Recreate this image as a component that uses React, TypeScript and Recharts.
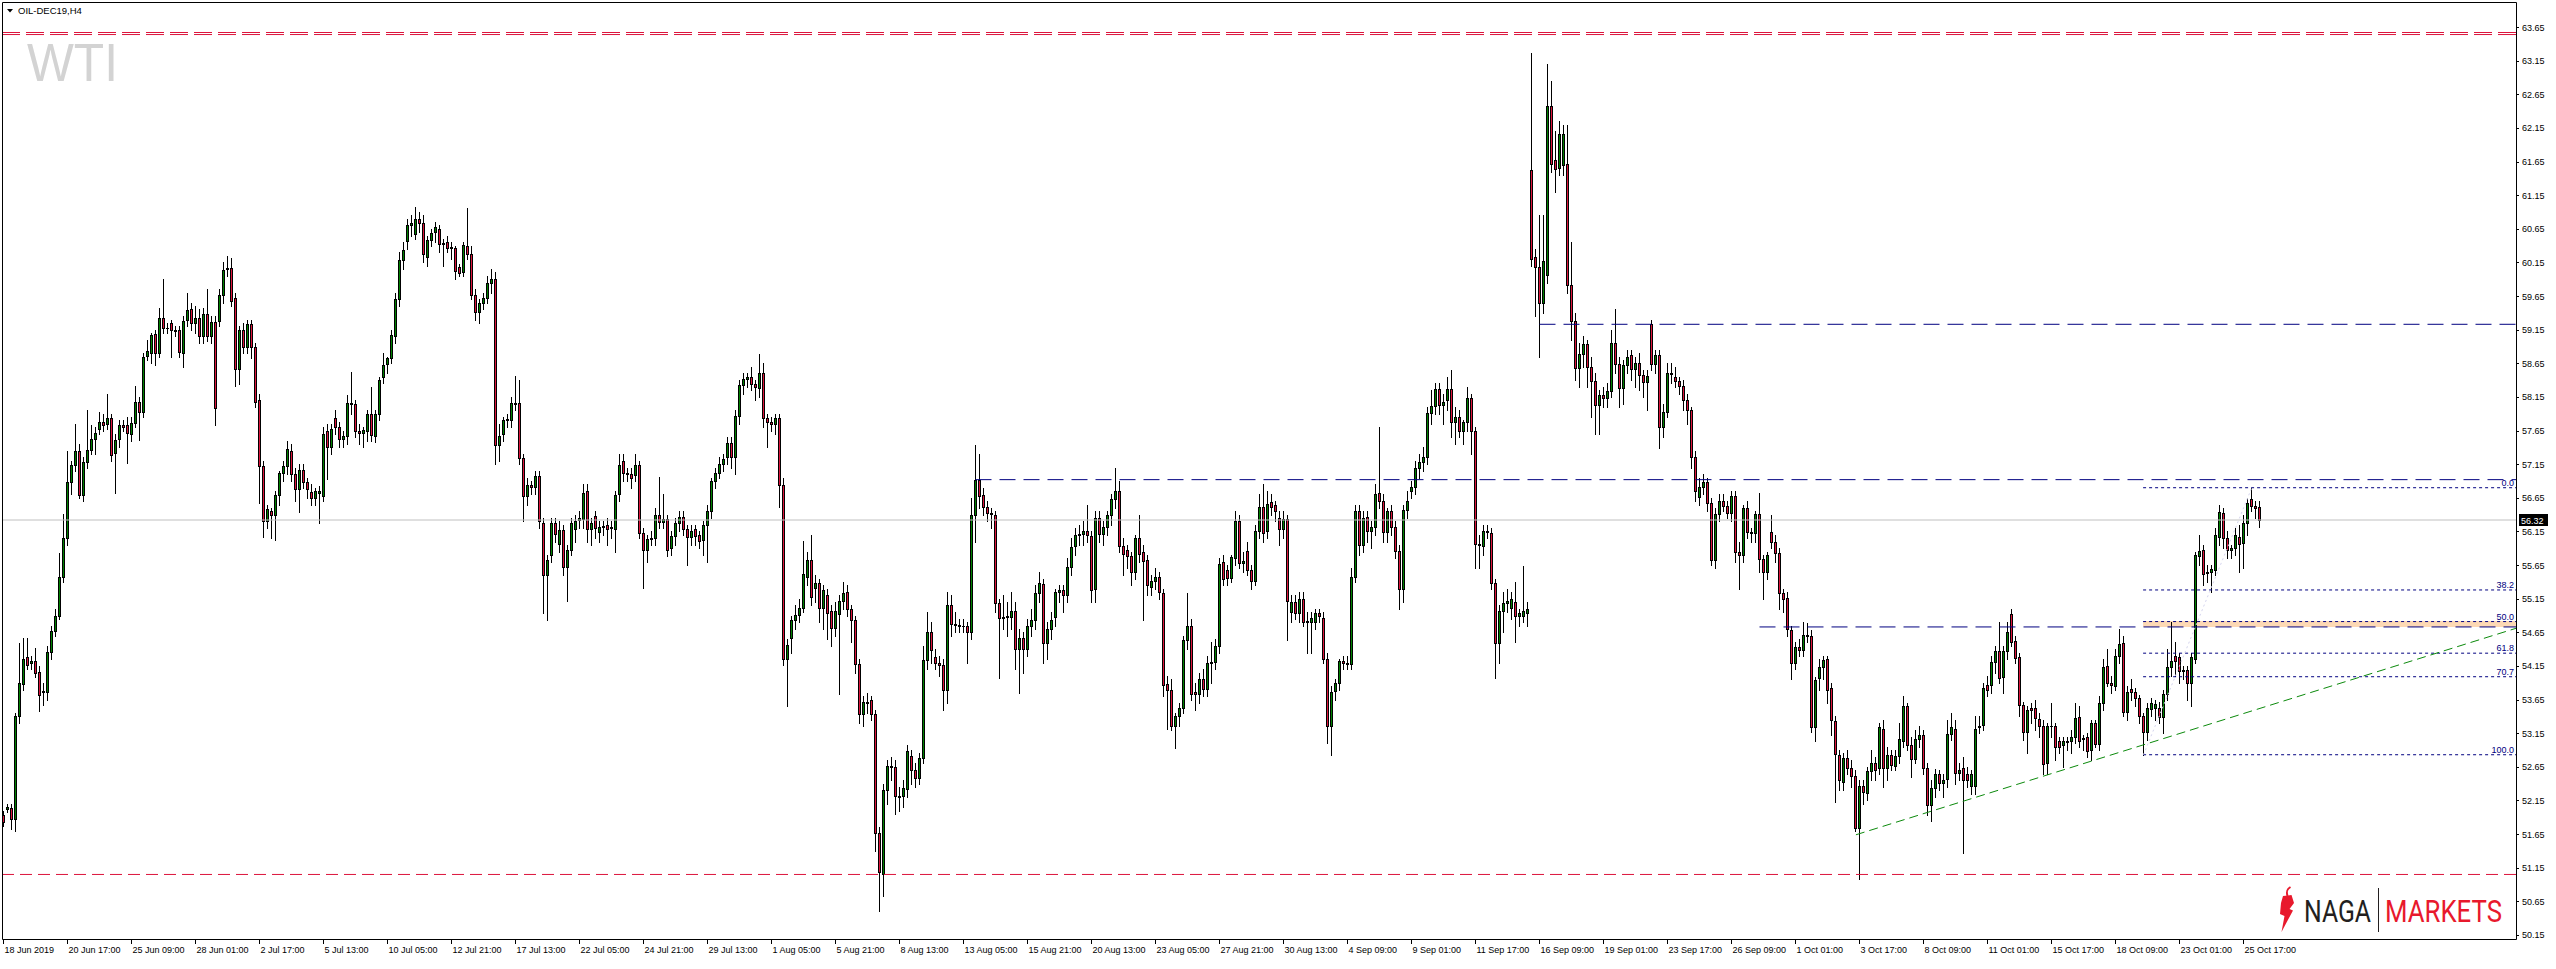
import React from "react";
import {
  ComposedChart,
  Bar,
  XAxis,
  YAxis,
  ReferenceLine,
  ReferenceArea,
  Label,
} from "recharts";

type Ohlc = [number, number, number, number]; // open, high, low, close

// H4 bars, OIL-DEC19 (WTI)
const junBars: Ohlc[] = [
  [51.93, 52.0, 51.77, 51.83], [52.02, 52.1, 51.98, 52.05], [52.04, 52.1, 51.72, 51.87], [51.87, 53.45, 51.7, 53.4],
  [53.4, 54.49, 53.3, 53.9], [53.88, 54.57, 53.8, 54.26], [54.28, 54.57, 54.1, 54.17], [54.2, 54.3, 54.1, 54.23],
  [54.23, 54.41, 53.98, 54.04], [54.06, 54.15, 53.48, 53.72], [53.77, 53.9, 53.57, 53.78], [53.77, 54.45, 53.65, 54.36],
  [54.36, 54.75, 54.25, 54.67], [54.67, 55.0, 54.6, 54.9], [54.9, 55.83, 54.85, 55.48], [55.48, 56.41, 55.4, 56.05],
  [56.05, 57.34, 55.95, 56.88], [56.88, 57.2, 56.7, 57.14], [57.14, 57.75, 57.05, 57.34], [57.34, 57.45, 56.64, 56.69],
  [56.69, 57.25, 56.6, 57.18], [57.18, 57.96, 57.1, 57.36], [57.36, 57.73, 57.3, 57.53], [57.52, 57.7, 57.3, 57.62],
  [57.67, 57.93, 57.6, 57.78], [57.78, 57.9, 57.65, 57.73], [57.75, 58.2, 57.68, 57.83], [57.83, 57.9, 57.2, 57.29],
  [57.31, 57.6, 56.72, 57.51], [57.52, 57.8, 57.4, 57.73], [57.74, 57.8, 57.65, 57.71], [57.73, 57.85, 57.17, 57.62],
  [57.6, 57.85, 57.5, 57.76], [57.76, 58.31, 57.7, 58.07], [58.07, 58.15, 57.51, 57.93], [57.93, 58.8, 57.85, 58.74],
  [58.76, 59.0, 58.7, 58.83], [58.8, 59.1, 58.65, 59.07], [59.09, 59.15, 58.62, 58.8], [58.81, 59.47, 58.75, 59.33],
  [59.33, 59.9, 59.1, 59.17], [59.17, 59.25, 59.1, 59.18], [59.25, 59.3, 58.74, 59.14], [59.14, 59.2, 59.05, 59.13],
  [59.14, 59.2, 58.75, 58.82], [58.8, 59.35, 58.59, 59.28], [59.3, 59.69, 59.2, 59.44], [59.45, 59.55, 59.15, 59.25],
  [59.25, 59.5, 59.1, 59.33], [59.33, 59.45, 58.95, 59.05], [59.05, 59.47, 58.95, 59.39], [59.39, 59.76, 58.98, 59.05],
  [59.05, 59.35, 58.95, 59.27], [59.27, 59.35, 57.73, 57.99],
];

const julBars: Ohlc[] = [
  [59.28, 59.75, 59.2, 59.66], [59.66, 60.15, 59.55, 60.04], [60.05, 60.25, 59.95, 60.07], [60.07, 60.21, 59.5, 59.58],
  [59.62, 59.7, 58.31, 58.56], [58.56, 59.2, 58.34, 59.15], [59.15, 59.25, 58.8, 58.89], [58.89, 59.3, 58.8, 59.23],
  [59.23, 59.3, 58.73, 58.89], [58.89, 58.95, 58.0, 58.07], [58.1, 58.2, 56.57, 57.13], [57.12, 57.2, 56.06, 56.3],
  [56.3, 56.55, 56.2, 56.48], [56.45, 56.5, 56.05, 56.4], [56.4, 56.75, 56.03, 56.69], [56.69, 57.05, 56.55, 57.02],
  [57.02, 57.2, 56.9, 57.12], [57.12, 57.5, 57.0, 57.38], [57.35, 57.45, 56.9, 57.0], [57.0, 57.1, 56.6, 56.78],
  [56.78, 57.15, 56.44, 57.07], [57.07, 57.15, 56.8, 56.89], [56.89, 56.95, 56.65, 56.78], [56.73, 56.85, 56.55, 56.64],
  [56.65, 56.8, 56.55, 56.75], [56.72, 56.82, 56.28, 56.75], [56.68, 57.7, 56.6, 57.6], [57.64, 57.75, 56.93, 57.4],
  [57.4, 57.75, 57.3, 57.67], [57.83, 57.95, 57.6, 57.7], [57.7, 57.78, 57.4, 57.53], [57.52, 57.65, 57.4, 57.57],
  [57.57, 58.18, 57.45, 58.06], [58.06, 58.52, 57.9, 58.04], [58.04, 58.1, 57.55, 57.64], [57.64, 57.75, 57.45, 57.62],
  [57.62, 57.7, 57.4, 57.66], [57.64, 57.95, 57.5, 57.89], [57.9, 58.3, 57.5, 57.59], [57.57, 57.95, 57.48, 57.89],
  [57.89, 58.45, 57.8, 58.4], [58.44, 58.8, 58.35, 58.62], [58.64, 58.75, 58.5, 58.73], [58.73, 59.15, 58.65, 59.07],
  [59.05, 59.7, 58.95, 59.6], [59.6, 60.3, 59.5, 60.18], [60.18, 60.45, 60.05, 60.34], [60.47, 60.8, 60.35, 60.71],
  [60.7, 60.85, 60.55, 60.73], [60.57, 60.98, 60.5, 60.8], [60.8, 60.9, 60.6, 60.73], [60.73, 60.85, 60.15, 60.27],
  [60.23, 60.55, 60.1, 60.49], [60.49, 60.65, 60.4, 60.59], [60.6, 60.75, 60.45, 60.67], [60.65, 60.7, 60.3, 60.42],
  [60.42, 60.5, 60.1, 60.44], [60.45, 60.55, 60.3, 60.36], [60.36, 60.45, 60.2, 60.38], [60.36, 60.4, 59.9, 60.02],
  [60.08, 60.12, 59.95, 59.99], [60.01, 60.45, 59.95, 60.41], [60.4, 60.96, 60.2, 60.27], [60.27, 60.4, 59.6, 59.67],
  [59.67, 59.75, 59.3, 59.41], [59.41, 59.6, 59.25, 59.54], [59.54, 59.7, 59.45, 59.62], [59.62, 59.95, 59.55, 59.84],
  [59.84, 60.05, 59.7, 59.9], [59.9, 60.0, 57.15, 57.43], [57.43, 57.75, 57.2, 57.57], [57.6, 57.85, 57.5, 57.8],
  [57.8, 57.9, 57.7, 57.82], [57.8, 58.15, 57.7, 58.06], [58.06, 58.46, 57.95, 58.04], [58.06, 58.4, 57.15, 57.24],
  [57.24, 57.3, 56.31, 56.67], [56.67, 56.95, 56.55, 56.84], [56.84, 56.9, 56.7, 56.81], [56.81, 57.05, 56.7, 56.97],
  [56.97, 57.05, 56.2, 56.3], [56.28, 56.35, 54.94, 55.5], [55.5, 55.8, 54.83, 55.73], [55.8, 56.35, 55.7, 56.27],
  [56.27, 56.35, 56.0, 56.11], [55.97, 56.3, 55.85, 56.17], [56.17, 56.25, 55.5, 55.62], [55.62, 55.95, 55.12, 55.88],
  [55.88, 56.35, 55.8, 56.27], [56.19, 56.4, 56.0, 56.3], [56.32, 56.45, 56.2, 56.35], [56.33, 56.85, 56.2, 56.72],
  [56.75, 56.85, 56.0, 56.19], [56.19, 56.35, 55.95, 56.28], [56.38, 56.45, 56.05, 56.2], [56.14, 56.3, 56.0, 56.22],
  [56.22, 56.3, 56.1, 56.23], [56.25, 56.35, 55.95, 56.19], [56.2, 56.3, 56.05, 56.22], [56.19, 56.75, 55.85, 56.69],
  [56.7, 57.3, 56.6, 57.14], [57.2, 57.3, 56.9, 57.02], [57.02, 57.1, 56.9, 57.0], [57.0, 57.1, 56.8, 56.95],
  [56.99, 57.3, 56.9, 57.14], [57.14, 57.2, 56.05, 56.12], [56.12, 56.2, 55.31, 55.88], [55.88, 56.1, 55.7, 56.04],
  [56.04, 56.15, 55.95, 56.05], [56.05, 56.5, 55.95, 56.39], [56.4, 56.96, 56.2, 56.29], [56.29, 56.7, 56.2, 56.33],
  [56.33, 56.4, 55.78, 55.88], [55.9, 56.15, 55.8, 56.08], [56.08, 56.35, 55.95, 56.28], [56.28, 56.45, 56.15, 56.36],
  [56.36, 56.45, 56.1, 56.19], [56.19, 56.25, 55.65, 56.07], [56.07, 56.25, 55.95, 56.16], [56.18, 56.25, 55.95, 56.08],
  [56.09, 56.15, 55.9, 56.01], [56.02, 56.3, 55.8, 56.24], [56.25, 56.55, 55.7, 56.45], [56.45, 56.95, 56.35, 56.9],
  [56.9, 57.1, 56.8, 57.02], [57.02, 57.25, 56.95, 57.16], [57.16, 57.3, 57.05, 57.23], [57.25, 57.55, 57.15, 57.46],
  [57.46, 57.55, 57.1, 57.25], [57.25, 57.95, 57.0, 57.86], [57.86, 58.4, 57.75, 58.32], [58.32, 58.5, 58.2, 58.42],
  [58.42, 58.5, 58.3, 58.44], [58.44, 58.6, 58.25, 58.34], [58.34, 58.4, 58.1, 58.3], [58.28, 58.79, 58.15, 58.5],
  [58.5, 58.65, 57.7, 57.84],
];

const augBars: Ohlc[] = [
  [57.83, 57.9, 57.4, 57.77], [57.77, 57.85, 57.65, 57.75], [57.75, 57.9, 57.6, 57.83], [57.83, 57.9, 56.52, 56.84],
  [56.84, 56.95, 54.17, 54.26], [54.26, 54.55, 53.56, 54.46], [54.56, 54.9, 54.35, 54.83], [54.83, 55.05, 54.7, 54.91],
  [54.91, 55.15, 54.8, 55.01], [55.01, 56.01, 54.95, 55.51], [55.48, 55.85, 55.35, 55.73], [55.73, 56.1, 55.05, 55.17],
  [55.31, 55.5, 55.1, 55.38], [55.38, 55.45, 54.8, 55.01], [55.01, 55.35, 54.7, 55.28], [55.2, 55.3, 54.55, 54.94],
  [54.97, 55.05, 54.45, 54.71], [54.71, 55.1, 54.6, 54.97], [54.92, 55.2, 53.73, 55.11], [55.12, 55.4, 55.0, 55.24],
  [55.25, 55.35, 54.9, 54.99], [54.99, 55.05, 54.5, 54.84], [54.84, 54.9, 54.05, 54.18], [54.18, 54.25, 53.3, 53.43],
  [53.43, 53.7, 53.25, 53.62], [53.62, 53.75, 53.45, 53.6], [53.64, 53.7, 53.35, 53.43], [53.43, 53.5, 51.4, 51.67],
  [51.67, 51.75, 50.5, 51.08], [51.06, 52.4, 50.73, 52.3], [52.3, 52.75, 52.1, 52.67], [52.67, 52.8, 52.45, 52.65],
  [52.65, 52.75, 51.95, 52.21], [52.21, 52.35, 52.0, 52.2], [52.21, 52.45, 52.05, 52.34], [52.32, 52.98, 52.2, 52.89],
  [52.81, 52.9, 52.4, 52.61], [52.61, 52.7, 52.35, 52.48], [52.48, 52.85, 52.4, 52.78], [52.78, 54.45, 52.7, 54.24],
  [54.24, 54.95, 54.1, 54.66], [54.66, 54.8, 54.2, 54.39], [54.28, 54.4, 54.1, 54.19], [54.2, 54.3, 54.0, 54.16],
  [54.16, 54.25, 53.5, 53.79], [53.79, 55.25, 53.6, 55.05], [55.05, 55.2, 54.6, 54.77], [54.77, 54.95, 54.65, 54.76],
  [54.76, 54.85, 54.65, 54.74], [54.74, 54.85, 54.65, 54.75], [54.74, 54.8, 54.2, 54.66], [54.66, 56.65, 54.55, 56.39],
  [56.39, 57.43, 56.0, 56.92], [56.92, 57.3, 56.5, 56.68], [56.69, 56.8, 56.4, 56.51], [56.51, 56.6, 56.3, 56.42],
  [56.42, 56.5, 56.2, 56.41], [56.39, 56.45, 54.95, 55.08], [55.08, 55.15, 53.97, 54.86], [54.86, 55.2, 54.7, 54.88],
  [54.88, 55.1, 54.6, 54.9], [54.88, 55.25, 54.7, 54.97], [54.97, 55.1, 54.1, 54.4], [54.4, 54.7, 53.75, 54.56],
  [54.56, 54.65, 54.05, 54.4], [54.4, 54.85, 54.3, 54.75], [54.75, 55.0, 54.6, 54.83], [54.83, 55.35, 54.7, 55.24],
  [55.24, 55.55, 55.1, 55.38], [55.37, 55.45, 54.2, 54.49], [54.49, 54.8, 54.25, 54.7], [54.7, 54.95, 54.55, 54.84],
  [54.88, 55.3, 54.75, 55.25], [55.25, 55.35, 55.1, 55.28], [55.28, 55.35, 54.95, 55.2], [55.2, 55.75, 55.1, 55.62],
  [55.62, 56.05, 55.5, 55.92], [55.94, 56.2, 55.8, 56.09], [56.09, 56.25, 55.95, 56.11], [56.11, 56.3, 55.95, 56.16],
  [56.16, 56.55, 56.0, 56.09], [56.08, 56.15, 55.1, 55.28], [55.29, 56.45, 55.1, 56.35], [56.35, 56.45, 56.0, 56.11],
  [56.11, 56.3, 55.95, 56.22], [56.22, 56.45, 56.1, 56.39], [56.39, 56.7, 56.25, 56.63], [56.63, 57.09, 56.5, 56.75],
  [56.75, 56.9, 55.85, 55.94], [55.94, 56.05, 55.5, 55.82], [55.88, 55.95, 55.6, 55.78], [55.78, 55.85, 55.35, 55.54],
  [55.54, 56.1, 55.45, 56.05], [56.05, 56.4, 55.7, 55.82], [55.85, 55.95, 54.83, 55.71], [55.72, 55.8, 55.2, 55.35],
  [55.32, 55.5, 55.2, 55.41], [55.41, 55.6, 55.3, 55.48], [55.48, 55.55, 55.15, 55.25], [55.24, 55.3, 53.7, 53.87],
  [53.88, 54.0, 53.22, 53.79], [53.79, 53.95, 53.2, 53.25], [53.25, 53.45, 52.93, 53.4], [53.4, 53.6, 53.25, 53.52],
  [53.52, 54.6, 53.45, 54.53], [54.53, 55.24, 54.4, 54.74], [54.74, 54.85, 53.65, 53.73], [53.76, 53.9, 53.5, 53.73],
  [53.73, 54.05, 53.6, 53.96], [53.96, 54.1, 53.7, 53.81], [53.81, 54.3, 53.7, 54.19], [54.19, 54.5, 53.9, 54.21],
  [54.21, 54.55, 54.1, 54.44], [54.44, 55.75, 54.35, 55.67], [55.7, 55.8, 55.35, 55.44], [55.57, 55.65, 55.35, 55.46],
  [55.46, 55.8, 55.4, 55.77], [55.75, 56.45, 55.65, 56.31], [56.31, 56.4, 55.6, 55.68], [55.68, 55.85, 55.55, 55.71],
  [55.86, 56.0, 55.5, 55.58], [55.58, 55.65, 55.3, 55.41], [55.41, 56.25, 55.35, 56.15], [56.15, 56.7, 56.05, 56.51],
  [56.51, 56.85, 56.0, 56.12], [56.16, 56.75, 56.05, 56.56], [56.59, 56.7, 56.4, 56.52], [56.54, 56.6, 56.3, 56.45],
  [56.35, 56.45, 55.95, 56.19], [56.19, 56.45, 56.05, 56.34], [56.34, 56.4, 54.53, 55.11], [54.95, 55.2, 54.8, 55.1],
];

const sepBars: Ohlc[] = [
  [55.1, 55.2, 54.85, 54.94], [54.93, 55.25, 54.8, 55.14], [55.15, 55.25, 54.75, 54.8], [54.8, 54.95, 54.35, 54.82],
  [54.8, 54.95, 54.35, 54.86], [54.8, 55.0, 54.7, 54.93], [54.93, 55.0, 54.8, 54.89], [54.86, 54.95, 54.2, 54.26],
  [54.26, 54.35, 53.01, 53.26], [53.26, 53.85, 52.82, 53.76], [53.78, 53.95, 53.65, 53.9], [53.9, 54.25, 53.8, 54.22],
  [54.22, 54.3, 54.1, 54.2], [54.19, 54.3, 54.1, 54.18], [54.18, 55.6, 54.1, 55.47], [55.47, 56.55, 55.4, 56.45],
  [56.45, 56.55, 55.8, 55.95], [55.95, 56.45, 55.85, 56.35], [56.36, 56.45, 56.0, 56.15], [56.15, 56.3, 55.9, 56.22],
  [56.22, 56.85, 56.1, 56.7], [56.72, 57.71, 56.5, 56.61], [56.61, 56.7, 56.0, 56.14], [56.14, 56.5, 56.0, 56.45],
  [56.45, 56.55, 56.1, 56.22], [56.22, 56.3, 55.75, 55.86], [55.86, 55.95, 55.0, 55.3], [55.3, 56.55, 55.1, 56.47],
  [56.47, 56.75, 56.35, 56.6], [56.75, 56.9, 56.65, 56.81], [56.81, 57.2, 56.7, 57.1], [57.1, 57.3, 56.95, 57.18],
  [57.18, 57.4, 57.05, 57.26], [57.26, 58.0, 57.15, 57.91], [57.91, 58.25, 57.75, 58.02], [58.02, 58.35, 57.9, 58.27],
  [58.27, 58.35, 57.9, 58.03], [58.03, 58.2, 57.75, 58.07], [58.1, 58.45, 57.95, 58.27], [58.27, 58.55, 57.55, 57.78],
  [57.77, 58.0, 57.45, 57.85], [57.85, 57.95, 57.55, 57.64], [57.64, 57.8, 57.45, 57.77], [57.77, 58.3, 57.65, 58.14],
  [58.14, 58.2, 57.3, 57.64], [57.64, 57.7, 55.6, 55.97], [55.97, 56.1, 55.6, 55.95], [55.93, 56.25, 55.8, 56.16],
  [56.16, 56.25, 56.05, 56.14], [56.12, 56.2, 55.3, 55.39], [55.39, 55.45, 53.97, 54.49], [54.49, 55.05, 54.2, 54.97],
  [54.97, 55.25, 54.65, 55.08], [55.08, 55.3, 54.95, 55.11], [55.01, 55.25, 54.85, 55.14], [55.1, 55.4, 54.5, 54.9],
  [54.9, 55.0, 54.75, 54.93], [54.89, 55.64, 54.8, 54.97], [54.93, 55.1, 54.75, 54.99], [61.52, 63.27, 60.1, 60.2],
  [60.23, 60.35, 59.35, 60.08], [60.08, 60.85, 58.74, 59.54], [59.54, 60.85, 59.4, 60.17], [59.96, 63.1, 59.85, 62.48],
  [62.48, 62.85, 61.5, 61.62], [61.67, 62.1, 61.2, 61.54], [61.56, 62.25, 61.45, 62.06], [61.6, 62.2, 61.45, 62.06],
  [61.62, 62.2, 59.7, 59.81], [59.81, 60.45, 59.0, 59.28], [59.28, 59.4, 58.4, 58.58], [58.58, 58.95, 58.3, 58.79],
  [58.79, 59.05, 58.6, 58.93], [58.93, 59.0, 58.3, 58.6], [58.6, 58.75, 57.85, 58.39], [58.39, 58.5, 57.6, 58.03],
  [58.03, 58.25, 57.6, 58.18], [58.18, 58.3, 58.0, 58.14], [58.14, 58.35, 58.0, 58.24], [58.24, 59.15, 58.15, 58.95],
  [58.95, 59.46, 58.5, 58.64], [58.64, 58.75, 58.0, 58.28], [58.28, 58.7, 58.05, 58.62], [58.62, 58.85, 58.5, 58.75],
  [58.77, 58.85, 58.4, 58.56], [58.56, 58.75, 58.3, 58.66], [58.66, 58.8, 58.25, 58.47], [58.47, 58.55, 58.15, 58.37],
  [58.37, 58.55, 57.95, 58.46], [59.24, 59.3, 58.55, 58.64], [58.64, 58.85, 58.5, 58.77], [58.77, 58.85, 57.39, 57.7],
  [57.7, 58.05, 57.55, 57.92], [57.92, 58.65, 57.85, 58.5], [58.5, 58.65, 58.35, 58.49], [58.45, 58.6, 58.3, 58.39],
  [58.39, 58.45, 58.2, 58.31], [58.31, 58.4, 57.95, 58.1], [58.1, 58.2, 57.75, 57.95], [57.95, 58.0, 57.1, 57.26],
  [57.26, 57.35, 56.6, 56.75], [56.66, 56.95, 56.55, 56.81], [56.81, 57.0, 56.7, 56.89], [56.89, 56.95, 56.45, 56.57],
  [56.57, 56.65, 55.65, 55.72], [55.72, 56.5, 55.6, 56.41], [56.41, 56.7, 56.3, 56.61], [56.61, 56.7, 56.45, 56.53],
  [56.53, 56.6, 56.35, 56.43], [56.43, 56.75, 56.3, 56.68], [56.68, 56.75, 55.7, 55.85], [55.85, 56.0, 55.3, 55.8],
  [55.8, 56.55, 55.7, 56.5], [56.5, 56.6, 56.05, 56.14], [56.14, 56.2, 56.0, 56.12], [56.12, 56.45, 56.0, 56.41],
  [56.41, 56.72, 55.55, 55.74], [55.74, 55.8, 55.15, 55.55], [55.55, 55.85, 55.45, 55.8], [56.14, 56.4, 55.9, 56.0],
  [56.0, 56.1, 55.7, 55.83], [55.83, 55.9, 55.0, 55.24], [55.24, 55.3, 54.95, 55.14], [55.16, 55.25, 54.6, 54.7],
  [54.69, 54.75, 53.95, 54.2],
];

const octBars: Ohlc[] = [
  [54.2, 54.5, 54.1, 54.43], [54.43, 54.55, 54.3, 54.38], [54.38, 54.8, 54.3, 54.61], [54.61, 54.79, 54.5, 54.6],
  [54.6, 54.68, 53.17, 53.24], [53.24, 53.98, 53.03, 53.94], [53.97, 54.25, 53.8, 54.14], [54.13, 54.3, 53.95, 54.24],
  [54.25, 54.3, 53.6, 53.8], [53.82, 53.9, 53.12, 53.34], [53.33, 53.4, 52.13, 52.84], [52.83, 52.9, 52.3, 52.45],
  [52.42, 52.85, 52.3, 52.78], [52.78, 52.9, 52.55, 52.64], [52.63, 52.75, 52.35, 52.52], [52.52, 52.6, 51.7, 51.74],
  [51.74, 52.45, 50.98, 52.36], [52.36, 52.45, 52.1, 52.27], [52.26, 52.65, 52.15, 52.59], [52.59, 52.9, 52.45, 52.71],
  [52.71, 52.8, 52.45, 52.61], [52.63, 53.3, 52.55, 53.24], [53.22, 53.35, 52.35, 52.63], [52.63, 52.95, 52.45, 52.83],
  [52.83, 52.9, 52.6, 52.68], [52.66, 52.9, 52.6, 52.81], [52.81, 53.3, 52.7, 53.06], [53.04, 53.7, 52.95, 53.56],
  [53.55, 53.6, 52.9, 52.98], [52.98, 53.1, 52.5, 52.76], [52.76, 53.2, 52.7, 53.06], [53.06, 53.25, 52.95, 53.12],
  [53.12, 53.2, 52.55, 52.63], [52.63, 52.7, 51.93, 52.08], [52.08, 52.45, 51.85, 52.33], [52.33, 52.62, 52.2, 52.54],
  [52.54, 52.6, 52.3, 52.41], [52.41, 52.55, 52.2, 52.45], [52.47, 53.35, 52.35, 53.14], [53.14, 53.45, 53.05, 53.24],
  [53.21, 53.35, 52.4, 52.56], [52.56, 52.7, 52.45, 52.61], [52.64, 52.8, 51.37, 52.45], [52.55, 52.65, 52.35, 52.45],
  [52.37, 52.6, 52.25, 52.54], [52.37, 53.4, 52.25, 53.22], [53.24, 53.4, 53.15, 53.26], [53.27, 53.9, 53.2, 53.82],
  [53.87, 54.0, 53.7, 53.79], [53.87, 54.3, 53.75, 54.21], [54.21, 54.45, 54.05, 54.37], [54.37, 54.8, 53.9, 53.97],
  [53.98, 54.45, 53.75, 54.37], [54.37, 54.8, 54.25, 54.65], [54.92, 55.0, 54.45, 54.5], [54.52, 54.6, 54.2, 54.27],
  [54.28, 54.35, 53.4, 53.57], [53.57, 53.62, 53.05, 53.17], [53.17, 53.55, 52.85, 53.5], [53.52, 53.6, 53.3, 53.5],
  [53.52, 53.65, 53.2, 53.37], [53.36, 53.45, 53.1, 53.25], [53.26, 53.35, 52.55, 52.69], [52.7, 53.3, 52.55, 53.25],
  [53.25, 53.6, 53.1, 53.26], [53.26, 53.3, 52.75, 52.95], [53.03, 53.1, 52.85, 52.95], [52.98, 53.1, 52.65, 53.03],
  [53.03, 53.1, 52.9, 53.02], [53.03, 53.2, 52.85, 53.1], [53.1, 53.6, 53.0, 53.37], [53.39, 53.55, 52.95, 53.03],
  [53.06, 53.12, 52.9, 53.08], [53.09, 53.15, 52.8, 52.89], [52.9, 53.35, 52.75, 53.3], [53.3, 53.35, 52.95, 52.99],
  [52.99, 53.7, 52.9, 53.6], [53.6, 54.25, 53.5, 54.13], [54.15, 54.4, 53.85, 53.9], [53.9, 54.0, 53.75, 53.87],
  [53.85, 54.4, 53.8, 54.3], [54.3, 54.7, 54.2, 54.47], [54.49, 54.6, 53.4, 53.46], [53.46, 53.85, 53.35, 53.76],
  [53.81, 53.95, 53.65, 53.76], [53.76, 53.82, 53.55, 53.67], [53.67, 53.72, 53.3, 53.4], [53.4, 53.45, 52.83, 53.17],
  [53.17, 53.6, 53.05, 53.52], [53.51, 53.68, 53.4, 53.6], [53.52, 53.65, 53.35, 53.58], [53.52, 53.62, 53.3, 53.39],
  [53.39, 53.8, 53.15, 53.73], [53.73, 54.4, 53.65, 54.13], [54.13, 54.8, 54.0, 54.22], [54.3, 54.5, 54.0, 54.22],
  [54.28, 54.35, 53.9, 54.07], [54.07, 54.15, 53.95, 54.09], [54.09, 54.15, 53.65, 53.89], [53.89, 54.35, 53.55, 54.28],
  [54.26, 55.85, 54.2, 55.8], [55.78, 56.1, 55.65, 55.86], [55.87, 55.95, 55.35, 55.51], [55.53, 55.65, 55.4, 55.55],
  [55.55, 55.65, 55.25, 55.59], [55.58, 56.2, 55.5, 56.1], [56.07, 56.55, 55.95, 56.44], [56.42, 56.5, 55.9, 56.05],
  [56.05, 56.15, 55.75, 55.87], [55.87, 55.95, 55.75, 55.9], [55.9, 56.2, 55.8, 56.1], [56.07, 56.25, 55.55, 55.97],
  [55.98, 56.4, 55.6, 56.27], [56.27, 56.65, 56.1, 56.57], [56.63, 56.79, 56.45, 56.53], [56.53, 56.6, 56.35, 56.5],
  [56.51, 56.6, 56.21, 56.32],
];

// one label every 16 bars, starting at bar 0
const xTickLabels = [
  "18 Jun 2019", "20 Jun 17:00", "25 Jun 09:00", "28 Jun 01:00", "2 Jul 17:00", "5 Jul 13:00",
  "10 Jul 05:00", "12 Jul 21:00", "17 Jul 13:00", "22 Jul 05:00", "24 Jul 21:00", "29 Jul 13:00",
  "1 Aug 05:00", "5 Aug 21:00", "8 Aug 13:00", "13 Aug 05:00", "15 Aug 21:00", "20 Aug 13:00",
  "23 Aug 05:00", "27 Aug 21:00", "30 Aug 13:00", "4 Sep 09:00", "9 Sep 01:00", "11 Sep 17:00",
  "16 Sep 09:00", "19 Sep 01:00", "23 Sep 17:00", "26 Sep 09:00", "1 Oct 01:00", "3 Oct 17:00",
  "8 Oct 09:00", "11 Oct 01:00", "15 Oct 17:00", "18 Oct 09:00", "23 Oct 01:00", "25 Oct 17:00",
];
const xTickIdx = [
  0, 16, 32, 48, 64, 80, 96, 112, 128, 144, 160, 176, 192, 208, 224, 240, 256, 272,
  288, 304, 320, 336, 352, 368, 384, 400, 416, 432, 448, 464, 480, 496, 512, 528, 544, 560,
];
const yTicks = [
  50.15, 50.65, 51.15, 51.65, 52.15, 52.65, 53.15, 53.65, 54.15, 54.65, 55.15, 55.65, 56.15, 56.65,
  57.15, 57.65, 58.15, 58.65, 59.15, 59.65, 60.15, 60.65, 61.15, 61.65, 62.15, 62.65, 63.15, 63.65,
];

const lastPrice = 56.32;
const redTopLevels = [63.568, 63.538];
const redSupport = 51.05;
const blueLevels = [59.23, 56.92, 54.73];
const blueStarts = [384, 243, 439];
const fibNames = ["0.0", "38.2", "50.0", "61.8", "70.7", "100.0"];
const fibPrices = [56.8, 55.28, 54.81, 54.34, 53.99, 52.83];
const fibStart = 534.9;
const fibBase = [{ x: 535, y: 52.83 }, { x: 562, y: 56.79 }];
const trendLine = [{ x: 463.1, y: 51.64 }, { x: 628.125, y: 54.71 }];
const zoneLow = 54.73;
const zoneHigh = 54.82;

const X_DOMAIN: [number, number] = [-0.375, 628.125];
const Y_DOMAIN: [number, number] = [50.0905, 64.0217];

const data = [...junBars, ...julBars, ...augBars, ...sepBars, ...octBars].map(([o, h, l, c], i) => ({
  i,
  o,
  h,
  l,
  c,
  range: [l, h],
}));

const FONT = "'Liberation Sans', Arial, sans-serif";
const NAVY = "#000080";
const CRIMSON = "#dc143c";

function Candle(props: any) {
  const { x, y, width, height, payload } = props;
  if (!payload || x == null) return null;
  const { o, h, l, c } = payload;
  const cx = Math.floor(x + width / 2) + 0.5;
  const top = Math.min(y, y + height);
  const span = Math.abs(height);
  const k = h > l ? span / (h - l) : 0;
  const py = (p: number) => top + (h - p) * k;
  const b0 = Math.round(py(Math.max(o, c))) + 0.5;
  const b1 = Math.round(py(Math.min(o, c))) + 0.5;
  const wTop = Math.round(top);
  const wBot = Math.round(top + span) + 1;
  return (
    <g>
      <line x1={cx} x2={cx} y1={wTop} y2={wBot} stroke="#000" strokeWidth={1} />
      {b1 - b0 < 1 ? (
        <line x1={cx - 1.5} x2={cx + 1.5} y1={b0} y2={b0} stroke="#000" strokeWidth={1} />
      ) : (
        <rect x={cx - 1} y={b0} width={2} height={b1 - b0} fill={c >= o ? "#008000" : CRIMSON} stroke="#000" strokeWidth={1} />
      )}
    </g>
  );
}

function XTick(props: any) {
  const { x, y, payload } = props;
  const k = xTickIdx.indexOf(payload.value);
  const xx = Math.floor(x) + 0.5;
  return (
    <g>
      <line x1={xx} x2={xx} y1={y} y2={y + 5} stroke="#000" />
      <text x={xx + 1} y={y + 14} fontSize={9} fontFamily={FONT} fill="#000">
        {k >= 0 ? xTickLabels[k] : ""}
      </text>
    </g>
  );
}

function YTick(props: any) {
  const { x, y, payload } = props;
  const yy = Math.round(y) + 0.5;
  return (
    <g>
      <line x1={x} x2={x + 3} y1={yy} y2={yy} stroke="#000" />
      <text x={x + 6} y={y + 3.5} fontSize={9} fontFamily={FONT} fill="#000">
        {Number(payload.value).toFixed(2)}
      </text>
    </g>
  );
}

function PriceTag(props: any) {
  const { viewBox } = props;
  if (!viewBox) return null;
  const x = viewBox.x + viewBox.width;
  const y = Math.round(viewBox.y);
  return (
    <g>
      <rect x={x + 3} y={y - 6} width={29} height={12} fill="#000" />
      <text x={x + 5} y={y + 3.5} fontSize={9} fontFamily={FONT} fill="#fff">
        {lastPrice.toFixed(2)}
      </text>
    </g>
  );
}

export default function App() {
  return (
    <div style={{ position: "absolute", left: 0, top: 0, width: 2556, height: 969, background: "#fff" }}>
      <ComposedChart
        width={2556}
        height={969}
        data={data}
        margin={{ top: 2, left: 2, right: 0, bottom: 0 }}
      >
        <XAxis
          dataKey="i"
          type="number"
          domain={X_DOMAIN}
          allowDataOverflow
          ticks={xTickIdx}
          interval={0}
          height={30}
          axisLine={false}
          tickLine={false}
          tickSize={0}
          tickMargin={0}
          tick={<XTick />}
        />
        <YAxis
          orientation="right"
          type="number"
          domain={Y_DOMAIN}
          allowDataOverflow
          ticks={yTicks}
          interval={0}
          width={40}
          axisLine={false}
          tickLine={false}
          tickSize={0}
          tickMargin={0}
          tick={<YTick />}
        />
        <ReferenceArea
          x1={fibStart}
          x2={X_DOMAIN[1]}
          y1={zoneLow}
          y2={zoneHigh}
          fill="#fdd9b5"
          fillOpacity={1}
          stroke="none"
          ifOverflow="visible"
        />
        {redTopLevels.map((p) => (
          <ReferenceLine key={p} y={p} stroke={CRIMSON} strokeDasharray="18 6" ifOverflow="visible" />
        ))}
        <ReferenceLine y={redSupport} stroke={CRIMSON} strokeDasharray="12 6" ifOverflow="visible" />
        {blueLevels.map((p, k) => (
          <ReferenceLine
            key={p}
            segment={[{ x: blueStarts[k], y: p }, { x: X_DOMAIN[1], y: p }]}
            stroke={NAVY}
            strokeDasharray="16 8"
            ifOverflow="visible"
          />
        ))}
        {fibPrices.map((p, k) => (
          <ReferenceLine
            key={fibNames[k]}
            segment={[{ x: fibStart, y: p }, { x: X_DOMAIN[1], y: p }]}
            stroke={NAVY}
            strokeDasharray="3 3"
            ifOverflow="visible"
            label={{ value: fibNames[k], position: "insideBottomRight", offset: 2, fill: NAVY, fontSize: 9, fontFamily: FONT }}
          />
        ))}
        <ReferenceLine segment={fibBase} stroke="#d4d4ee" strokeDasharray="2 3" ifOverflow="visible" />
        <ReferenceLine segment={trendLine} stroke="#0c8a0c" strokeDasharray="9 5" ifOverflow="visible" />
        <ReferenceLine y={lastPrice} stroke="#c0c0c0" ifOverflow="visible" label={<Label content={PriceTag} />} />
        <Bar dataKey="range" barSize={3} shape={<Candle />} isAnimationActive={false} />
      </ComposedChart>

      <svg
        width={2556}
        height={969}
        style={{ position: "absolute", left: 0, top: 0, pointerEvents: "none" }}
      >
        <path d="M2.5 2.5H2516.5V939.5H2.5Z" fill="none" stroke="#000" />
        <path d="M7 9H13L10 12.5Z" fill="#000" />
        <text x={18} y={14} fontSize={9.5} fontFamily={FONT} fill="#000">
          OIL-DEC19,H4
        </text>
        <text x={27} y={81} fontSize={54} fontFamily={FONT} fill="#d3d3d3" textLength={91} lengthAdjust="spacingAndGlyphs">
          WTI
        </text>
        <g>
          <path d="M2287.5 896 C2286 891 2287 889 2290.5 887" fill="none" stroke="#e8192c" strokeWidth={2} />
          <path
            d="M2283 896 L2291.5 895 L2294 903 L2289.5 909 L2293 910.5 L2281.5 932 L2284.5 916 L2280 914 L2281 903 Z"
            fill="#e8192c"
          />
          <text x={2304} y={922} fontSize={31} fontFamily="Roboto, sans-serif" fill="#231f20" textLength={67} lengthAdjust="spacingAndGlyphs">
            NAGA
          </text>
          <line x1={2378.5} x2={2378.5} y1={888} y2={932} stroke="#231f20" strokeWidth={1} />
          <text x={2385} y={922} fontSize={31} fontFamily="Roboto, sans-serif" fill="#e8192c" textLength={117} lengthAdjust="spacingAndGlyphs">
            MARKETS
          </text>
        </g>
      </svg>
    </div>
  );
}
